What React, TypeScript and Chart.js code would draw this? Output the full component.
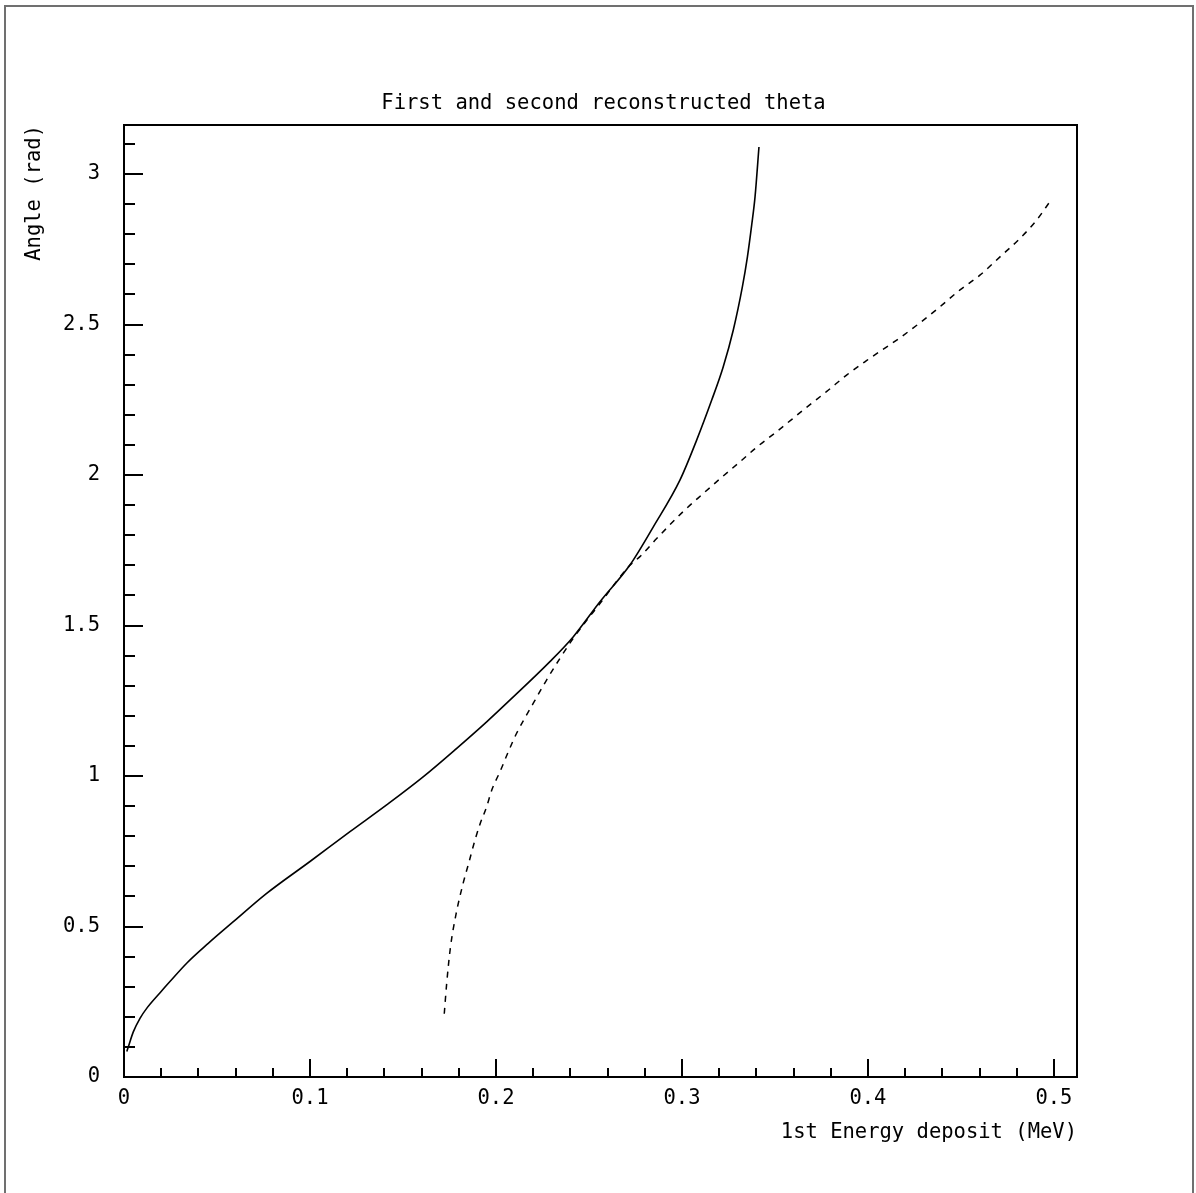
import React, { useEffect, useRef } from 'react';
import { Chart, registerables } from 'chart.js';

Chart.register(...registerables);

// ---- data ----
const solidX = [0.0015, 0.0023, 0.005, 0.0086, 0.0122, 0.0194, 0.0247, 0.0337, 0.0453, 0.0588, 0.0767, 0.1, 0.1215, 0.1412, 0.161, 0.1789, 0.195, 0.2066, 0.229, 0.2416, 0.2559, 0.272, 0.2846, 0.2989, 0.3079, 0.316, 0.3222, 0.3276, 0.3325, 0.3352, 0.3375, 0.3393, 0.3414];
const solidY = [0.085, 0.1, 0.15, 0.195, 0.228, 0.28, 0.317, 0.378, 0.444, 0.516, 0.61, 0.716, 0.815, 0.904, 0.998, 1.092, 1.18, 1.247, 1.38, 1.463, 1.579, 1.701, 1.828, 1.983, 2.116, 2.249, 2.36, 2.482, 2.626, 2.725, 2.831, 2.925, 3.09];

const dashedX = [0.1722, 0.1735, 0.1755, 0.1785, 0.1824, 0.1851, 0.1887, 0.1914, 0.195, 0.1977, 0.2022, 0.2066, 0.2111, 0.22, 0.2272, 0.2344, 0.2416, 0.256, 0.272, 0.2774, 0.2864, 0.3007, 0.3115, 0.3213, 0.3312, 0.3401, 0.3509, 0.367, 0.3777, 0.3885, 0.3992, 0.4172, 0.428, 0.4387, 0.4495, 0.4602, 0.471, 0.4817, 0.4907, 0.4978];
const dashedY = [0.21, 0.311, 0.43, 0.54, 0.645, 0.705, 0.787, 0.84, 0.898, 0.953, 1.015, 1.08, 1.142, 1.241, 1.319, 1.391, 1.458, 1.574, 1.7, 1.729, 1.789, 1.879, 1.939, 1.992, 2.044, 2.092, 2.144, 2.225, 2.277, 2.332, 2.38, 2.456, 2.506, 2.559, 2.615, 2.664, 2.725, 2.786, 2.847, 2.908];

const xMajorTicks = [0, 0.1, 0.2, 0.3, 0.4, 0.5];
const xMajorLabels = ['0', '0.1', '0.2', '0.3', '0.4', '0.5'];
const xMinorTicks = [0.02, 0.04, 0.06, 0.08, 0.12, 0.14, 0.16, 0.18, 0.22, 0.24, 0.26, 0.28, 0.32, 0.34, 0.36, 0.38, 0.42, 0.44, 0.46, 0.48];
const yMajorTicks = [0, 0.5, 1, 1.5, 2, 2.5, 3];
const yMajorLabels = ['0', '0.5', '1', '1.5', '2', '2.5', '3'];
const yMinorTicks = [0.1, 0.2, 0.3, 0.4, 0.6, 0.7, 0.8, 0.9, 1.1, 1.2, 1.3, 1.4, 1.6, 1.7, 1.8, 1.9, 2.1, 2.2, 2.3, 2.4, 2.6, 2.7, 2.8, 2.9, 3.1];
const xRange = [0, 0.5124];
const yRange = [0, 3.163];

const chartTitle = 'First and second reconstructed theta';
const xTitle = '1st Energy deposit (MeV)';
const yTitle = 'Angle (rad)';

const FONT = 'DejaVu Sans Mono';
const FSIZE = 20.5;

const framePlugin = {
  id: 'hbookFrame',
  beforeDraw(chart: any) {
    const ctx = chart.ctx;
    ctx.save();
    ctx.fillStyle = '#fff';
    ctx.fillRect(0, 0, chart.width, chart.height);
    ctx.strokeStyle = '#707070';
    ctx.lineWidth = 2;
    ctx.strokeRect(5, 6, 1188, 1200);
    ctx.restore();
  },
  afterDraw(chart: any) {
    const ctx = chart.ctx;
    const { left, top, right, bottom } = chart.chartArea;
    const xs = chart.scales.x;
    const ys = chart.scales.y;
    ctx.save();
    ctx.strokeStyle = '#000';
    ctx.lineWidth = 2;
    ctx.strokeRect(left, top, right - left, bottom - top);
    ctx.beginPath();
    yMajorTicks.forEach((v) => {
      const py = Math.round(ys.getPixelForValue(v));
      ctx.moveTo(left, py);
      ctx.lineTo(left + 19, py);
    });
    yMinorTicks.forEach((v) => {
      const py = Math.round(ys.getPixelForValue(v));
      ctx.moveTo(left, py);
      ctx.lineTo(left + 11, py);
    });
    xMajorTicks.forEach((v) => {
      const px = Math.round(xs.getPixelForValue(v));
      ctx.moveTo(px, bottom);
      ctx.lineTo(px, bottom - 18);
    });
    xMinorTicks.forEach((v) => {
      const px = Math.round(xs.getPixelForValue(v));
      ctx.moveTo(px, bottom);
      ctx.lineTo(px, bottom - 9);
    });
    ctx.stroke();
    ctx.fillStyle = '#000';
    ctx.font = `${FSIZE}px "${FONT}"`;
    ctx.textAlign = 'center';
    ctx.textBaseline = 'middle';
    ctx.fillText(chartTitle, (left + right) / 2 + 3, 104);
    ctx.restore();
  },
};

export default function App() {
  const ref = useRef<HTMLCanvasElement>(null);

  useEffect(() => {
    document.body.style.margin = '0';
    const solid = solidX.map((x, i) => ({ x, y: solidY[i] }));
    const dashed = dashedX.map((x, i) => ({ x, y: dashedY[i] }));
    const chart = new Chart(ref.current as HTMLCanvasElement, {
      type: 'scatter',
      data: {
        datasets: [
          {
            label: 'First theta',
            data: solid,
            showLine: true,
            borderColor: '#000',
            borderWidth: 1.6,
            pointRadius: 0,
            cubicInterpolationMode: 'monotone',
          },
          {
            label: 'Second theta',
            data: dashed,
            showLine: true,
            borderColor: '#000',
            borderWidth: 1.5,
            borderDash: [6, 6],
            pointRadius: 0,
            cubicInterpolationMode: 'monotone',
          },
        ],
      },
      options: {
        responsive: false,
        animation: false,
        events: [],
        layout: { padding: { top: 125, right: 119, bottom: 0, left: 0 } },
        plugins: {
          legend: { display: false },
          tooltip: { enabled: false },
          title: { display: false },
        },
        scales: {
          x: {
            type: 'linear',
            min: xRange[0],
            max: xRange[1],
            afterFit(s: any) { s.height = 116; },
            afterBuildTicks(s: any) { s.ticks = xMajorTicks.map((v) => ({ value: v })); },
            grid: { display: false, drawTicks: false },
            border: { display: false },
            ticks: {
              color: '#000',
              padding: 9,
              maxRotation: 0,
              autoSkip: false,
              font: { family: FONT, size: FSIZE },
              callback: (_v: any, i: number) => xMajorLabels[i],
            },
            title: {
              display: true,
              text: xTitle,
              align: 'end',
              color: '#000',
              font: { family: FONT, size: FSIZE },
              padding: { top: 0, bottom: 48 },
            },
          },
          y: {
            type: 'linear',
            min: yRange[0],
            max: yRange[1],
            afterFit(s: any) { s.width = 124; },
            afterBuildTicks(s: any) { s.ticks = yMajorTicks.map((v) => ({ value: v })); },
            grid: { display: false, drawTicks: false },
            border: { display: false },
            ticks: {
              color: '#000',
              padding: 24,
              autoSkip: false,
              font: { family: FONT, size: FSIZE },
              callback: (_v: any, i: number) => yMajorLabels[i],
            },
            title: {
              display: true,
              text: yTitle,
              align: 'end',
              color: '#000',
              font: { family: FONT, size: FSIZE },
              padding: { top: 22, bottom: 0 },
            },
          },
        },
      },
      plugins: [framePlugin],
    } as any);
    return () => chart.destroy();
  }, []);

  return (
    <div style={{ width: 1196, height: 1193, position: 'relative' }}>
      <canvas ref={ref} width={1196} height={1193} style={{ display: 'block' }} />
    </div>
  );
}
